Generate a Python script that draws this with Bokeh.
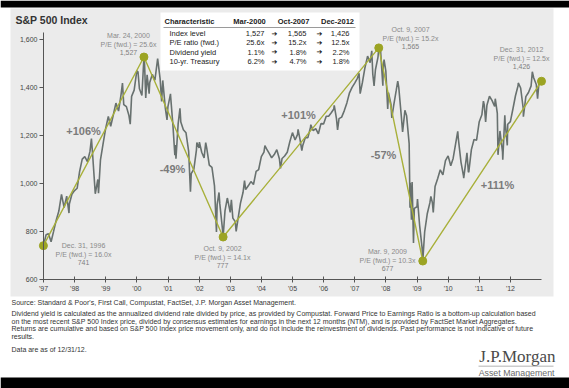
import pandas as pd
from bokeh.plotting import figure
from bokeh.models import Range1d, FixedTicker, NumeralTickFormatter, Label, BoxAnnotation
from bokeh.embed import file_html
from bokeh.resources import INLINE

# ---------------- data ----------------
# S&P 500 month-end closes, Dec-1996 .. Dec-2012
sp_monthly = [
    740.74,
    786.16, 790.82, 757.12, 801.34, 848.28, 885.14, 954.31, 899.47, 947.28, 914.62, 955.40, 970.43,
    980.28, 1049.34, 1101.75, 1111.75, 1090.82, 1133.84, 1120.67, 957.28, 1017.01, 1098.67, 1163.63, 1229.23,
    1279.64, 1238.33, 1286.37, 1335.18, 1301.84, 1372.71, 1328.72, 1320.41, 1282.71, 1362.93, 1388.91, 1469.25,
    1394.46, 1366.42, 1498.58, 1452.43, 1420.60, 1454.60, 1430.83, 1517.68, 1436.51, 1429.40, 1314.95, 1320.28,
    1366.01, 1239.94, 1160.33, 1249.46, 1255.82, 1224.42, 1211.23, 1133.58, 1040.94, 1059.78, 1139.45, 1148.08,
    1130.20, 1106.73, 1147.39, 1076.92, 1067.14, 989.82, 911.62, 916.07, 815.28, 885.76, 936.31, 879.82,
    855.70, 841.15, 848.18, 916.92, 963.59, 974.50, 990.31, 1008.01, 995.97, 1050.71, 1058.20, 1111.92,
    1131.13, 1144.94, 1126.21, 1107.30, 1120.68, 1140.84, 1101.72, 1104.24, 1114.58, 1130.20, 1173.82, 1211.92,
    1181.27, 1203.60, 1180.59, 1156.85, 1191.50, 1191.33, 1234.18, 1220.33, 1228.81, 1207.01, 1249.48, 1248.29,
    1280.08, 1280.66, 1294.83, 1310.61, 1270.09, 1270.20, 1276.66, 1303.82, 1335.85, 1377.94, 1400.63, 1418.30,
    1438.24, 1406.82, 1420.86, 1482.37, 1530.62, 1503.35, 1455.27, 1473.99, 1526.75, 1549.38, 1481.14, 1468.36,
    1378.55, 1330.63, 1322.70, 1385.59, 1400.38, 1280.00, 1267.38, 1282.83, 1166.36, 968.75, 896.24, 903.25,
    825.88, 735.09, 797.87, 872.81, 919.14, 919.32, 987.48, 1020.62, 1057.08, 1036.19, 1095.63, 1115.10,
    1073.87, 1104.49, 1169.43, 1186.69, 1089.41, 1030.71, 1101.60, 1049.33, 1141.20, 1183.26, 1180.55, 1257.64,
    1286.12, 1327.22, 1325.83, 1363.61, 1345.20, 1320.64, 1292.28, 1218.89, 1131.42, 1253.30, 1246.96, 1257.60,
    1312.41, 1365.68, 1408.47, 1397.91, 1310.33, 1362.16, 1379.32, 1406.58, 1440.67, 1412.16, 1416.18, 1426.19,
]

# intra-month highs and lows visible in the daily series
sp_extra_dates = [
    "1997-10-27", "1998-07-17", "1998-10-08", "1999-07-16", "1999-10-15", "2000-01-14",
    "2000-03-24", "2000-04-14", "2000-05-24", "2000-09-01", "2000-10-18", "2000-12-20",
    "2001-01-30", "2001-03-22", "2001-04-04", "2001-05-21", "2001-09-21", "2001-12-05",
    "2002-01-04", "2002-03-19", "2002-07-23", "2002-08-22", "2002-10-09", "2002-11-27",
    "2003-01-14", "2003-03-11", "2003-06-17", "2004-02-11", "2004-08-12", "2005-03-07",
    "2005-04-20", "2005-08-03", "2006-05-05", "2006-06-13", "2007-02-20", "2007-03-05",
    "2007-07-19", "2007-08-15", "2007-10-09", "2007-11-26", "2007-12-10", "2008-01-22",
    "2008-03-10", "2008-05-19", "2008-07-15", "2008-08-11", "2008-10-10", "2008-10-13",
    "2008-10-27", "2008-11-04", "2008-11-20", "2009-01-06", "2009-03-09", "2009-06-12",
    "2009-07-10", "2010-04-23", "2010-07-02", "2010-08-09", "2010-08-26", "2011-02-18",
    "2011-03-16", "2011-07-07", "2011-08-08", "2011-10-03", "2011-10-27", "2011-11-25",
    "2012-04-02", "2012-06-01", "2012-09-14", "2012-11-15",
]
sp_extra_values = [
    876.99, 1186.75, 959.44, 1418.78, 1247.41, 1465.15,
    1527.46, 1356.56, 1373.86, 1520.77, 1342.13, 1264.74,
    1373.73, 1117.58, 1103.25, 1312.83, 965.80, 1170.35,
    1172.51, 1170.29, 797.70, 962.70, 776.76, 938.87,
    931.66, 800.73, 1011.66, 1157.76, 1063.23, 1225.31,
    1137.50, 1245.04, 1325.76, 1223.69, 1459.68, 1374.12,
    1553.08, 1406.70, 1565.15, 1407.22, 1515.96, 1310.50,
    1273.37, 1426.63, 1214.91, 1305.32, 899.22, 1003.35,
    848.92, 1005.75, 752.44, 934.70, 676.53, 946.21,
    879.13, 1217.28, 1022.58, 1127.79, 1047.22, 1343.01,
    1256.88, 1353.22, 1119.46, 1099.23, 1284.59, 1158.67,
    1419.04, 1278.04, 1465.77, 1353.33,
]

turn_dates = ["1996-12-31", "2000-03-24", "2002-10-09", "2007-10-09", "2009-03-09", "2012-12-31"]
turn_values = [741, 1527, 777, 1565, 677, 1426]
turn_names = ["Dec. 31, 1996", "Mar. 24, 2000", "Oct. 9, 2002", "Oct. 9, 2007", "Mar. 9, 2009", "Dec. 31, 2012"]
turn_pe = ["16.0x", "25.6x", "14.1x", "15.2x", "10.3x", "12.5x"]

table_header = ["Characteristic", "Mar-2000", "Oct-2007", "Dec-2012"]
table_rows = ["Index level", "P/E ratio (fwd.)", "Dividend yield", "10-yr. Treasury"]
table_mar2000 = ["1,527", "25.6x", "1.1%", "6.2%"]
table_oct2007 = ["1,565", "15.2x", "1.8%", "4.7%"]
table_dec2012 = ["1,426", "12.5x", "2.2%", "1.8%"]

year_ticks = list(range(1997, 2013))
year_labels = ["'97", "'98", "'99", "'00", "'01", "'02", "'03", "'04", "'05", "'06",
               "'07", "'08", "'09", "'10", "'11", "'12"]
price_ticks = [600, 800, 1000, 1200, 1400, 1600]

notes = [
    "Source: Standard & Poor's, First Call, Compustat, FactSet, J.P. Morgan Asset Management.",
    "Dividend yield is calculated as the annualized dividend rate divided by price, as provided by Compustat. Forward Price to Earnings Ratio is a bottom-up calculation based",
    "on the most recent S&P 500 Index price, divided by consensus estimates for earnings in the next 12 months (NTM), and is provided by FactSet Market Aggregates.",
    "Returns are cumulative and based on S&P 500 Index price movement only, and do not include the reinvestment of dividends. Past performance is not indicative of future",
    "results.",
    "Data are as of 12/31/12.",
]


def dec_year(s):
    t = pd.Timestamp(s)
    a = pd.Timestamp(year=t.year, month=1, day=1)
    b = pd.Timestamp(year=t.year + 1, month=1, day=1)
    return t.year + (t - a) / (b - a)


month_dates = pd.date_range("1996-12-31", periods=len(sp_monthly), freq="ME")
series = pd.DataFrame({
    "d": list(month_dates) + [pd.Timestamp(s) for s in sp_extra_dates],
    "v": sp_monthly + sp_extra_values,
}).drop_duplicates("d").sort_values("d")
sx = [dec_year(d) for d in series["d"]]
sy = list(series["v"])
tx = [dec_year(d) for d in turn_dates]

# ---------------- geometry (page pixels -> data) ----------------
W, H = 569, 388
PXY = 31.13   # px per year
PPU = 0.24    # px per index point
def X(px):
    return 1997 + (px - 43) / PXY
def Y(py):
    return 600 + (279 - py) / PPU

FONT = "Liberation Sans"
PANEL = "#ebebeb"

p = figure(width=W, height=H, output_backend="svg", toolbar_location=None,
           x_range=Range1d(X(0), X(W)), y_range=Range1d(Y(H), Y(0)),
           min_border=0)
p.background_fill_color = "white"
p.border_fill_color = "white"
p.outline_line_color = None
p.xgrid.visible = False
p.ygrid.visible = False

# panel and page bars
p.add_layout(BoxAnnotation(left=X(10), right=X(553), top=Y(8), bottom=Y(296), level="underlay",
                           fill_color=PANEL, fill_alpha=1, line_color=None))
p.add_layout(BoxAnnotation(left=X(0), right=X(W), top=Y(0), bottom=Y(7), level="underlay",
                           fill_color="black", fill_alpha=1, line_color=None))
p.add_layout(BoxAnnotation(left=X(0), right=X(W), top=Y(377), bottom=Y(H), level="underlay",
                           fill_color="black", fill_alpha=1, line_color=None))

# axes
p.yaxis.fixed_location = 1997
p.yaxis.bounds = (600, 1630)
p.yaxis.ticker = FixedTicker(ticks=price_ticks)
p.yaxis.formatter = NumeralTickFormatter(format="0,0")
p.yaxis.major_tick_in = 0
p.yaxis.major_tick_out = 4
p.yaxis.minor_tick_line_color = None
p.xaxis.fixed_location = 600
p.xaxis.bounds = (1997, 2013)
p.xaxis.ticker = FixedTicker(ticks=year_ticks)
p.xaxis.major_label_overrides = {t: l for t, l in zip(year_ticks, year_labels)}
p.xaxis.major_tick_in = 3
p.xaxis.major_tick_out = 3
p.xaxis.minor_tick_line_color = None
for ax in (p.xaxis, p.yaxis):
    ax.axis_line_color = "#555555"
    ax.major_tick_line_color = "#555555"
    ax.major_label_text_font = FONT
    ax.major_label_text_font_size = "7px"
    ax.major_label_text_color = "#444444"
    ax.major_label_standoff = 2

# series
p.line(sx, sy, line_color="#68716f", line_width=1.6)
p.line(tx, turn_values, line_color="#a8b03a", line_width=1.4)
p.scatter(tx, turn_values, size=8, fill_color="#9ca423", line_color="#9ca423")


def lab(x, y, text, size, color, align="center", bold=False, font=FONT):
    p.add_layout(Label(x=x, y=y, text=text, text_align=align, text_baseline="middle",
                       text_font=font, text_font_size=size, text_color=color,
                       text_font_style="bold" if bold else "normal"))


# title
lab(X(15), Y(19), "S&P 500 Index", "10.5px", "#333333", align="left", bold=True)

# turning-point annotations
ann_pos = [(83, 245), (128, 35), (222, 248), (410, 29), (387, 251), (521, 49)]
for (px, py), name, pe, v in zip(ann_pos, turn_names, turn_pe, turn_values):
    lab(X(px), Y(py), name, "7px", "#8a8a8a")
    lab(X(px), Y(py + 8.5), "P/E (fwd.) = " + pe, "7px", "#8a8a8a")
    lab(X(px), Y(py + 17), f"{v:,}", "7px", "#7f7f7f")

# percentage moves
pct_pos = [(83, 130), (172, 168), (298, 114), (383, 154), (497, 184)]
for i, (px, py) in enumerate(pct_pos):
    ch = round((turn_values[i + 1] / turn_values[i] - 1) * 100)
    lab(X(px), Y(py), f"{ch:+d}%", "11px", "#7b7b7b", bold=True)

# table
p.add_layout(BoxAnnotation(left=X(160), right=X(359), top=Y(12), bottom=Y(70),
                           fill_color="white", fill_alpha=1, line_color=None))
p.add_layout(BoxAnnotation(left=X(163), right=X(355), top=Y(26.6), bottom=Y(27.4),
                           fill_color="#9a9a9a", fill_alpha=1, line_color=None))
lab(X(164), Y(21), table_header[0], "7.5px", "#222222", align="left", bold=True)
for cx, h in zip([249, 293, 337], table_header[1:]):
    lab(X(cx), Y(21), h, "7.5px", "#222222", bold=True)
for ry, name, a, b, c in zip([33, 42.3, 51.6, 61], table_rows, table_mar2000, table_oct2007, table_dec2012):
    lab(X(169), Y(ry), name, "7.5px", "#222222", align="left")
    lab(X(264), Y(ry), a, "7.5px", "#222222", align="right")
    lab(X(306), Y(ry), b, "7.5px", "#222222", align="right")
    lab(X(349), Y(ry), c, "7.5px", "#222222", align="right")
    lab(X(274), Y(ry), "\u2794", "7px", "#111111", font="DejaVu Sans")
    lab(X(319), Y(ry), "\u2794", "7px", "#111111", font="DejaVu Sans")

# ---------------- footer ----------------
note_y = [302, 313, 320.7, 328.4, 336, 349]
for ny, t in zip(note_y, notes):
    lab(X(11), Y(ny), t, "7px", "#333333", align="left")

lab(X(555), Y(356), "J.P.Morgan", "17px", "#4a4a4a", align="right", font="Liberation Serif")
p.add_layout(BoxAnnotation(left=X(478), right=X(553), top=Y(365.2), bottom=Y(366), fill_color="#9a9a9a",
                           fill_alpha=1, line_color=None))
lab(X(554), Y(372), "Asset Management", "8.8px", "#6a6a6a", align="right")

open("out.html", "w").write(file_html(p, INLINE))
